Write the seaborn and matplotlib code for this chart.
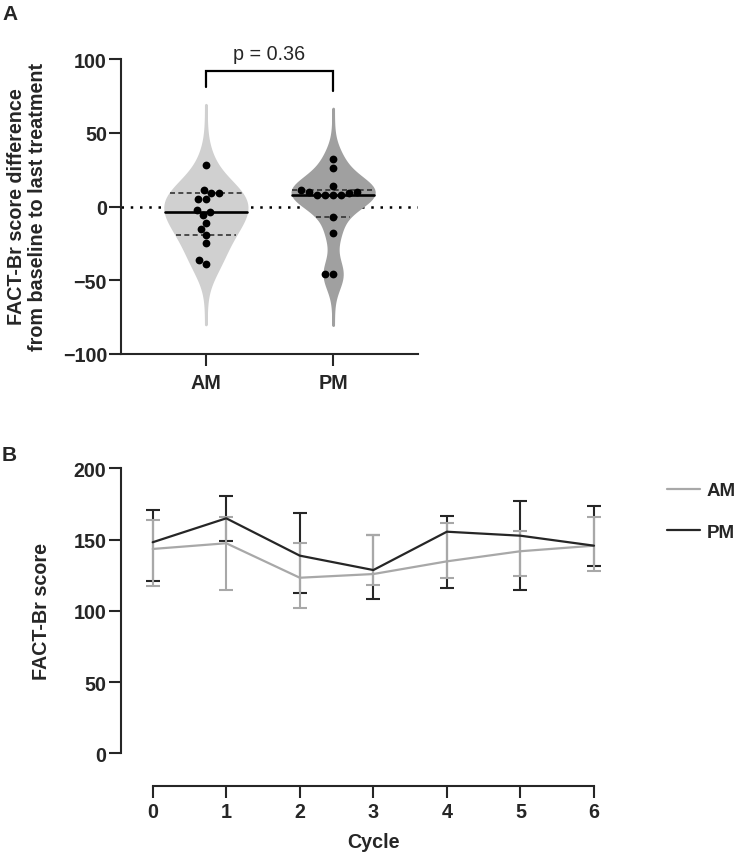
import numpy as np
import pandas as pd
import matplotlib
matplotlib.use("Agg")
import matplotlib.pyplot as plt
import seaborn as sns

# ---------------- data ----------------
groups = ["AM", "PM"]
am_diff = [28, 11, 9, 9, 5.4, 5, -2.5, -3.4, -6, -11, -15, -19, -25, -36.5, -39]
pm_diff = [32, 26, 14, 11, 10, 10, 9, 8, 8, 8, 8, -7, -18, -46, -46]
p_text = "p = 0.36"

cycles = [0, 1, 2, 3, 4, 5, 6]
am_mean = [143.4, 147.4, 123.2, 125.8, 134.7, 141.8, 145.7]
am_lo = [117.6, 114.8, 101.7, 118.1, 122.8, 124.2, 127.9]
am_hi = [163.7, 166.0, 147.6, 153.2, 161.4, 156.2, 165.6]
pm_mean = [148.1, 164.9, 138.7, 128.6, 155.5, 152.7, 145.7]
pm_lo = [121.1, 149.2, 112.3, 108.3, 115.8, 114.4, 131.7]
pm_hi = [171.0, 180.3, 168.4, 153.2, 166.3, 176.8, 173.3]

# ---------------- style ----------------
sns.set_theme(style="ticks")
plt.rcParams["font.family"] = ["Liberation Sans", "DejaVu Sans"]
plt.rcParams["font.weight"] = "bold"
plt.rcParams["axes.linewidth"] = 1.5

FS = 14.2
am_fill, pm_fill = "#d0d0d0", "#a0a0a0"
am_line, pm_line = "#a8a8a8", "#262626"

fig = plt.figure(figsize=(7.36, 8.54), dpi=100)
W, H = 736, 854

# ---------------- panel A ----------------
axA = fig.add_axes([121 / W, 1 - 355 / H, 297 / W, 295 / H])
df = pd.DataFrame({"group": ["AM"] * len(am_diff) + ["PM"] * len(pm_diff),
                   "diff": am_diff + pm_diff})

axA.axhline(0, color="black", ls=(0, (1, 2.7)), lw=1.8, zorder=0)
violin_specs = [("AM", am_fill, 1.15, 3.3), ("PM", pm_fill, 0.75, 3.5)]
for g, col, bwa, cut in violin_specs:
    sns.violinplot(data=df[df["group"] == g], x="group", y="diff", order=groups,
                   color=col, inner=None, cut=cut, bw_adjust=bwa,
                   density_norm="width", width=0.64, linewidth=2.0,
                   saturation=1, ax=axA)
polys = list(axA.collections)
for p in polys:
    p.set_edgecolor(p.get_facecolor())
    p.set_zorder(1)

for i, (vals, poly) in enumerate(zip([am_diff, pm_diff], polys)):
    q1, med, q3 = np.percentile(vals, [25, 50, 75], method="weibull")
    verts = poly.get_paths()[0].vertices
    right = verts[verts[:, 0] > i]
    o = np.argsort(right[:, 1])
    ry, rx = right[o, 1], right[o, 0]
    for q, kind in [(q1, "q"), (med, "m"), (q3, "q")]:
        hw = np.interp(q, ry, rx) - i + 0.005
        if kind == "m":
            axA.plot([i - hw, i + hw], [q, q], color="black", lw=1.9, zorder=2)
        else:
            axA.plot([i - hw, i + hw], [q, q], color="#333333", lw=1.2,
                     ls=(0, (3, 2)), zorder=2)

sns.swarmplot(data=df, x="group", y="diff", order=groups, color="black",
              size=5.6, ax=axA, zorder=3)

axA.set_xlim(-0.667, 1.667)
axA.set_ylim(-100, 100)
axA.set_yticks([-100, -50, 0, 50, 100])
axA.set_xlabel("")
axA.set_ylabel("")
sns.despine(ax=axA)
axA.tick_params(axis="y", length=8.6, width=1.5, labelsize=FS, pad=1.5)
axA.tick_params(axis="x", length=8.6, width=1.5, labelsize=FS, pad=5)
for lab in axA.get_xticklabels() + axA.get_yticklabels():
    lab.set_fontweight("bold")

axA.plot([0, 0, 1, 1], [80.7, 92, 92, 78.4], color="black", lw=1.6,
         clip_on=False, solid_joinstyle="miter")
axA.text(0.5, 103.5, p_text, ha="center", va="center", fontsize=FS,
         fontweight="normal", clip_on=False)

fig.text(27 / W, 1 - 207 / H,
         "FACT-Br score difference\nfrom baseline to last treatment",
         rotation=90, ha="center", va="center", fontsize=FS,
         fontweight="bold", linespacing=1.15, multialignment="center")
fig.text(2 / W, 1 - 5 / H, "A", fontsize=15, fontweight="bold",
         ha="left", va="top")

# ---------------- panel B ----------------
axB = fig.add_axes([121 / W, 1 - 786.5 / H, 499 / W, 317.2 / H])
pm_m = np.array(pm_mean); am_m = np.array(am_mean)
axB.errorbar(cycles, pm_m, yerr=[pm_m - np.array(pm_lo), np.array(pm_hi) - pm_m],
             fmt="none", ecolor=pm_line, elinewidth=1.5, capsize=4.7,
             capthick=1.5, zorder=2)
axB.errorbar(cycles, am_m, yerr=[am_m - np.array(am_lo), np.array(am_hi) - am_m],
             fmt="none", ecolor=am_line, elinewidth=1.5, capsize=4.7,
             capthick=1.5, zorder=3)

long = pd.DataFrame({"Cycle": cycles * 2, "score": am_mean + pm_mean,
                     "group": ["AM"] * len(cycles) + ["PM"] * len(cycles)})
sns.lineplot(data=long, x="Cycle", y="score", hue="group", hue_order=groups,
             palette=[am_line, pm_line], lw=1.6, ax=axB, zorder=4)
handles, labels = axB.get_legend_handles_labels()
if axB.get_legend() is not None:
    axB.get_legend().remove()

axB.set_xlim(-0.431, 6.354)
axB.set_ylim(-22.6, 200)
axB.set_xticks(cycles)
axB.set_yticks([0, 50, 100, 150, 200])
axB.set_xlabel("")
axB.set_ylabel("")
sns.despine(ax=axB)
axB.spines["left"].set_bounds(0, 200)
axB.spines["bottom"].set_bounds(0, 6)
axB.tick_params(axis="y", length=8.6, width=1.5, labelsize=FS, pad=2)
axB.tick_params(axis="x", length=8.6, width=1.5, labelsize=FS, pad=3)
for lab in axB.get_xticklabels() + axB.get_yticklabels():
    lab.set_fontweight("bold")

fig.legend(handles, labels, loc="upper left",
           bbox_to_anchor=(666.7 / W, 1 - 483 / H), frameon=False,
           borderpad=0, borderaxespad=0, handlelength=1.8,
           handletextpad=0.35, labelspacing=1.3,
           prop={"size": 13.5, "weight": "bold"})

fig.text(41.3 / W, 1 - 612 / H, "FACT-Br score", rotation=90, ha="center",
         va="center", fontsize=FS, fontweight="bold")
fig.text(374 / W, 1 - 843 / H, "Cycle", ha="center", va="center",
         fontsize=FS, fontweight="bold")
fig.text(2 / W, 1 - 446 / H, "B", fontsize=15, fontweight="bold",
         ha="left", va="top")

fig.savefig("out.png", dpi=100)
